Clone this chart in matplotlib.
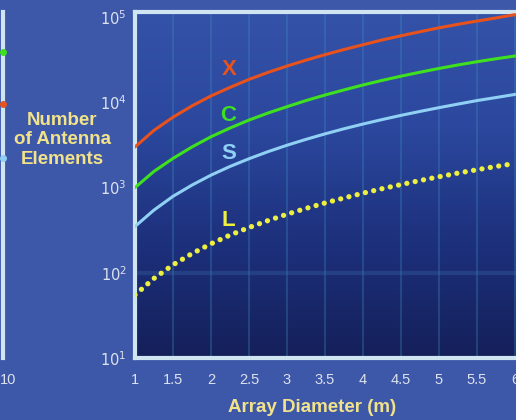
import numpy as np
import matplotlib
matplotlib.use("Agg")
import matplotlib.pyplot as plt
from matplotlib.colors import LinearSegmentedColormap
from matplotlib.transforms import ScaledTranslation

# ---- data ----
diameter = [1, 1.25, 1.5, 1.75, 2, 2.25, 2.5, 2.75, 3, 3.25, 3.5, 3.75,
            4, 4.25, 4.5, 4.75, 5, 5.25, 5.5, 5.75, 6]
x_band = [3000, 4700, 6700, 9100, 11900, 15000, 18600, 22500, 26700, 31300, 36300, 41700,
          47500, 54000, 60500, 67500, 75000, 82500, 90000, 98000, 107000]
c_band = [1000, 1550, 2200, 3000, 3950, 5000, 6200, 7500, 8900, 10500, 12200, 14000,
          16000, 18100, 20300, 22600, 25000, 27500, 30000, 32500, 35000]
s_band = [350, 545, 790, 1070, 1400, 1770, 2180, 2640, 3140, 3680, 4270, 4900,
          5570, 6280, 7040, 7830, 8670, 9550, 10500, 11400, 12400]
l_band = [55, 86, 124, 168, 219, 277, 340, 410, 487, 570, 660, 755,
          860, 970, 1085, 1210, 1340, 1480, 1620, 1770, 1920]
x_ticks = [1, 1.5, 2, 2.5, 3, 3.5, 4, 4.5, 5, 5.5, 6]
x_tick_labels = ["1", "1.5", "2", "2.5", "3", "3.5", "4", "4.5", "5", "5.5", "6"]
y_ticks = [1e1, 1e2, 1e3, 1e4, 1e5]
y_tick_labels = [r"$10^1$", r"$10^2$", r"$10^3$", r"$10^4$", r"$10^5$"]
left_panel_end = [3.9e4, 9.5e3, 2.2e3]   # partial neighbouring chart: C, X, S end markers

BG = "#3d58a8"
FRAME = "#cfe6f2"
TXT = "#dde2ee"
YEL = "#f2e38a"
ORANGE = "#e8521c"
GREEN = "#3fe11e"
LBLUE = "#8fd0f4"
LYEL = "#eef040"

plt.rcParams['font.family'] = ['Liberation Sans', 'DejaVu Sans']
fig = plt.figure(figsize=(5.16, 4.2), dpi=100, facecolor=BG)

W, H = 516, 420
left_px, top_px, bot_px = 135, 12, 358
xmin, xmax = 1, 6.1
px_per_unit = 76
ax_w_px = (xmax - xmin) * px_per_unit
ax_h_px = bot_px - top_px
ax = fig.add_axes([left_px / W, 1 - bot_px / H, ax_w_px / W, ax_h_px / H])
ax.set_yscale('log')
ax.set_xlim(xmin, xmax)
ax.set_ylim(10, 1.15e5)

# gradient background
cmap = LinearSegmentedColormap.from_list("bg", ["#15205a", "#1d307c", "#2b489e", "#3452a8"])
grad = np.linspace(0, 1, 256).reshape(-1, 1)
ax.imshow(grad, aspect='auto', cmap=cmap, origin='lower', extent=[0, 1, 0, 1],
          transform=ax.transAxes, zorder=0)

for xv in x_ticks[1:]:
    ax.axvline(xv, color="#3f8fc0", alpha=0.3, lw=1.5, zorder=1)
ax.axhline(100, color="#3f6fb0", alpha=0.3, lw=3, zorder=1)

ax.plot(diameter, x_band, color=ORANGE, lw=2.2, zorder=3, solid_capstyle='round')
ax.plot(diameter, c_band, color=GREEN, lw=2.2, zorder=3, solid_capstyle='round')
ax.plot(diameter, s_band, color=LBLUE, lw=2.2, zorder=3, solid_capstyle='round')
ax.plot(diameter, l_band, color=LYEL, lw=3.8, linestyle=(0, (0.01, 1.6)),
        dash_capstyle='round', zorder=4)

lab_kw = dict(fontsize=16, fontweight='bold', ha='center', va='center', zorder=5)
ax.text(2.24, 2.4e4, "X", color=ORANGE, **lab_kw)
ax.text(2.23, 7.1e3, "C", color=GREEN, **lab_kw)
ax.text(2.23, 2.5e3, "S", color=LBLUE, **lab_kw)
ax.text(2.23, 4.1e2, "L", color=LYEL, **lab_kw)

ax.set_xticks(x_ticks)
ax.set_xticklabels(x_tick_labels)
ax.set_yticks(y_ticks)
ax.set_yticklabels(y_tick_labels)
ax.yaxis.set_minor_locator(matplotlib.ticker.NullLocator())
ax.tick_params(axis='both', length=0, colors=TXT, labelsize=10.5)
ax.tick_params(axis='x', pad=11)
ax.tick_params(axis='y', pad=6)

for side in ['left', 'top', 'bottom']:
    ax.spines[side].set_color(FRAME)
    ax.spines[side].set_linewidth(3)
ax.spines['right'].set_visible(False)

ax.set_xlabel("Array Diameter (m)", color=YEL, fontsize=13.5, fontweight='bold')
ax.xaxis.set_label_coords((312 - left_px) / ax_w_px, (bot_px - 399) / ax_h_px)
fig.text(62 / W, 1 - 140 / H, "Number\nof Antenna\nElements", color=YEL, fontsize=13.5,
         fontweight='bold', ha='center', va='center', linespacing=1.2)

# partial neighbouring chart on the far left
ax2 = fig.add_axes([-0.3, 1 - bot_px / H, 0.3 + 3 / W, ax_h_px / H])
ax2.set_facecolor(BG)
ax2.set_yscale('log')
ax2.set_xlim(0, 10)
ax2.set_ylim(10, 1.15e5)
for side in ['left', 'top', 'bottom']:
    ax2.spines[side].set_visible(False)
ax2.spines['right'].set_color(FRAME)
ax2.spines['right'].set_linewidth(3)
ax2.set_yticks([])
ax2.yaxis.set_minor_locator(matplotlib.ticker.NullLocator())
ax2.set_xticks([10])
ax2.set_xticklabels(["10"])
ax2.tick_params(axis='x', length=0, colors=TXT, labelsize=10.5, pad=11)
for lbl in ax2.get_xticklabels():
    lbl.set_horizontalalignment('left')
    lbl.set_transform(lbl.get_transform() + ScaledTranslation(-3 / 100, 0, fig.dpi_scale_trans))
for val, col in zip(left_panel_end, [GREEN, ORANGE, LBLUE]):
    ax2.plot([10], [val], 'o', color=col, ms=4, clip_on=False, zorder=5)

fig.savefig("out.png", dpi=100, facecolor=BG)
